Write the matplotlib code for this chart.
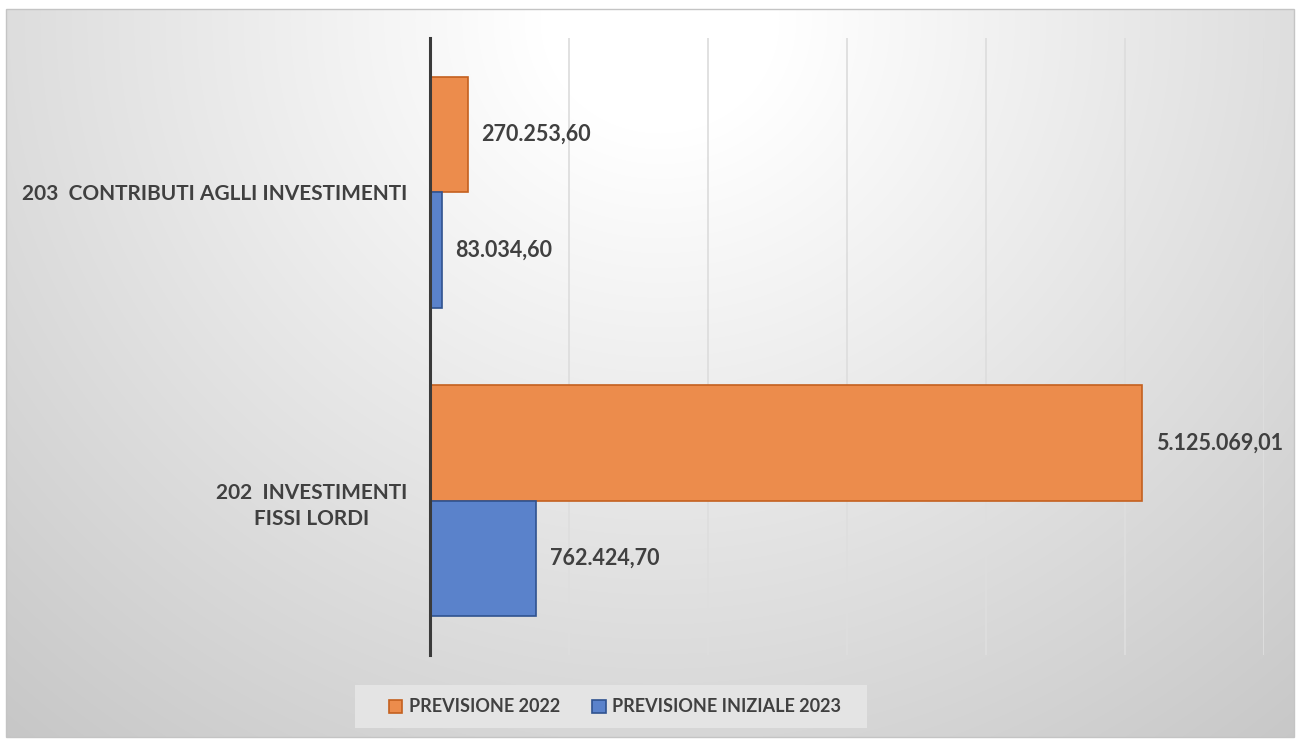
import numpy as np
import matplotlib
matplotlib.use("Agg")
import matplotlib.pyplot as plt
from matplotlib.patches import Rectangle

plt.rcParams['font.family'] = ['Lato', 'DejaVu Sans']

# Data
categories = ["202  INVESTIMENTI\nFISSI LORDI", "203  CONTRIBUTI AGLLI INVESTIMENTI"]
series_names = ["PREVISIONE 2022", "PREVISIONE INIZIALE 2023"]
previsione_2022 = [5125069.01, 270253.60]
previsione_2023 = [762424.70, 83034.60]

def fmt_it(v):
    s = f"{v:,.2f}"
    return s.replace(",", "X").replace(".", ",").replace("X", ".")

W, H = 1297, 740
fig = plt.figure(figsize=(W / 100, H / 100), dpi=100)
fig.patch.set_facecolor("white")

def fig_rect(x0, y0, x1, y1):
    """Pixel box (top-left origin) -> figure-fraction rectangle."""
    return [x0 / W, 1 - y1 / H, (x1 - x0) / W, (y1 - y0) / H]

# Radial grey gradient panel behind the chart
px0, py0, px1, py1 = 6, 9, 1294, 737
bg = fig.add_axes(fig_rect(px0, py0, px1, py1), zorder=-5)
yy, xx = np.mgrid[py0:py1, px0:px1]
d = np.sqrt((xx - 660) ** 2 + ((yy - 20) / 0.95) ** 2)
val = np.clip(255 - 0.064 * np.maximum(d - 120, 0), 192, 255) / 255.0
bg.imshow(np.dstack([val, val, val]), aspect="auto", interpolation="bilinear",
          extent=[0, 1, 0, 1])
bg.set_axis_off()
r = fig_rect(px0, py0, px1, py1)
fig.patches.append(Rectangle((r[0], r[1]), r[2], r[3], transform=fig.transFigure,
                             fill=False, edgecolor="#c4c4c4", linewidth=1.0, zorder=-4))

# Legend background band
r = fig_rect(355, 685, 867, 728)
fig.patches.append(Rectangle((r[0], r[1]), r[2], r[3], transform=fig.transFigure,
                             facecolor="#e4e4e4", edgecolor="none", zorder=-3))

ax = fig.add_axes(fig_rect(430, 38, 1264, 655))
ax.set_facecolor("none")

y = np.arange(len(categories))
h = 0.375
orange, orange_edge = "#EC8C4C", "#C4601F"
blue, blue_edge = "#5A82CB", "#2F528F"

b1 = ax.barh(y + h / 2, previsione_2022, height=h, color=orange, edgecolor=orange_edge,
             linewidth=1.2, label=series_names[0], zorder=3)
b2 = ax.barh(y - h / 2, previsione_2023, height=h, color=blue, edgecolor=blue_edge,
             linewidth=1.2, label=series_names[1], zorder=3)

txt_color = "#404040"
for bars, vals in ((b1, previsione_2022), (b2, previsione_2023)):
    for rect, v in zip(bars, vals):
        ax.annotate(fmt_it(v), xy=(v, rect.get_y() + rect.get_height() / 2),
                    xytext=(10, 0), textcoords="offset points",
                    ha="left", va="center", fontsize=15.5, fontweight="bold",
                    color=txt_color)

ax.set_xlim(0, 6000000)
ax.set_ylim(-0.5, 1.5)
ax.set_xticks(np.arange(0, 6000001, 1000000))
ax.set_xticklabels([])
ax.tick_params(axis="x", length=0)
ax.grid(axis="x", color="#dedede", linewidth=1.3, zorder=0)
ax.set_axisbelow(True)

ax.set_yticks(y)
ax.set_yticklabels(categories, fontsize=15, fontweight="bold", color=txt_color,
                   multialignment="center", linespacing=1.4)
ax.tick_params(axis="y", length=0, pad=16)

for s in ("top", "right", "bottom"):
    ax.spines[s].set_visible(False)
ax.spines["left"].set_color("#3a3a3a")
ax.spines["left"].set_linewidth(2.2)
ax.spines["left"].set_zorder(4)

leg = fig.legend(handles=[b1, b2], labels=series_names, loc="center",
                 bbox_to_anchor=(615 / W, 1 - 707 / H), ncol=2, frameon=False,
                 prop={"size": 13, "weight": "bold"}, handlelength=0.75, handleheight=0.75,
                 handletextpad=0.35, columnspacing=1.8, borderpad=0.3,
                 borderaxespad=0)
for t in leg.get_texts():
    t.set_color(txt_color)

fig.savefig("out.png", dpi=100)
